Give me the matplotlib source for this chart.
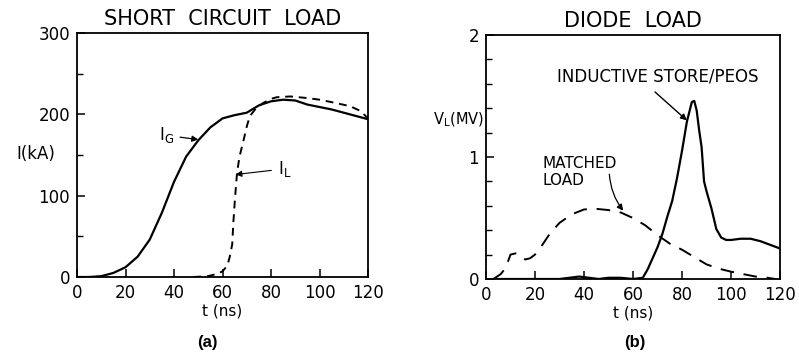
import matplotlib
matplotlib.use("Agg")
import matplotlib.pyplot as plt

# ---- data: (a) short circuit load ----
t_IG = [0, 5, 10, 15, 20, 25, 30, 35, 40, 45, 50, 55, 60, 65, 70, 75, 80, 85, 90, 95, 100, 105, 110, 115, 120]
I_G = [0, 0, 1, 5, 12, 25, 46, 79, 117, 148, 168, 184, 195, 199, 202, 211, 216, 218, 217, 212, 209, 206, 202, 198, 194]

t_IL = [48, 54, 58, 60, 62, 63, 64, 64.5, 65, 65.5, 66, 67, 68.6, 70, 71.3, 74, 76.8, 80, 82.3, 88, 95, 100, 105, 112.6, 117, 120]
I_L = [0, 1, 4, 7, 14, 25, 40, 68, 90, 110, 128, 148, 167, 185, 198, 208, 214, 219, 221, 222, 220, 218, 215, 210, 204, 195]

# ---- data: (b) diode load ----
t_ind = [5, 30, 38, 42, 46, 50, 55, 60, 64, 66, 68, 70, 72, 74, 76, 78, 80, 82, 84, 85, 86, 87, 88, 89, 90, 92, 94, 96, 98, 100, 104, 108, 112, 116, 120]
V_ind = [0, 0, 0.02, 0.01, 0, 0.01, 0.01, 0, 0.01, 0.08, 0.17, 0.26, 0.37, 0.51, 0.64, 0.83, 1.05, 1.29, 1.45, 1.46, 1.38, 1.22, 1.08, 0.80, 0.72, 0.58, 0.41, 0.34, 0.32, 0.32, 0.33, 0.33, 0.31, 0.28, 0.25]

t_match = [3, 6, 8, 10, 12, 14, 16, 18, 20, 23, 26, 30, 35, 40, 45, 50, 55, 60, 65, 70, 75, 80, 85, 90, 95, 100, 105, 110, 115, 118]
V_match = [0, 0.04, 0.09, 0.2, 0.21, 0.2, 0.16, 0.17, 0.2, 0.28, 0.37, 0.46, 0.53, 0.57, 0.575, 0.565, 0.545, 0.50, 0.44, 0.36, 0.29, 0.24, 0.18, 0.12, 0.085, 0.06, 0.04, 0.02, 0.01, 0.0]

x_ticks = [0, 20, 40, 60, 80, 100, 120]

plt.rcParams['font.family'] = ['DejaVu Sans']

fig = plt.figure(figsize=(7.99, 3.6), dpi=100)
axA = fig.add_axes([77/799, 1-277/360, (368-77)/799, (277-33)/360])
axB = fig.add_axes([486/799, 1-279/360, (780-486)/799, (279-35)/360])

for ax in (axA, axB):
    for s in ax.spines.values():
        s.set_linewidth(1.3)
        s.set_color('black')
    ax.set_xlim(0, 120)
    ax.set_xticks(x_ticks)
    ax.tick_params(direction='in', length=6, width=1.1, labelsize=12, pad=5)
    ax.tick_params(which='minor', direction='in', length=4, width=1.0)

# (a)
axA.plot(t_IG, I_G, color='black', lw=1.6)
axA.plot(t_IL, I_L, color='black', lw=1.4, dashes=(4, 3))
axA.set_ylim(0, 300)
axA.set_yticks([0, 100, 200, 300])
axA.set_yticks([50, 150, 250], minor=True)
axA.set_xlabel('t (ns)', fontsize=11, labelpad=1)
axA.set_title('SHORT  CIRCUIT  LOAD', fontsize=15, pad=6)
fig.text(16/799, 1-154/360, 'I(kA)', fontsize=12, va='center', ha='left')
axA.annotate(r'I$_{\rm G}$', xy=(50.0, 169), xytext=(34, 174), fontsize=12, va='center',
             arrowprops=dict(arrowstyle='-|>', color='black', lw=0.9, mutation_scale=9,
                             shrinkA=2, shrinkB=0))
axA.annotate(r'I$_{\rm L}$', xy=(65.4, 126), xytext=(83, 133), fontsize=12, va='center',
             arrowprops=dict(arrowstyle='-|>', color='black', lw=0.8, mutation_scale=9,
                             shrinkA=3, shrinkB=0))
fig.text(207/799, 1-343/360, '(a)', fontsize=12, fontweight='bold',
         family='Liberation Sans', ha='center', va='center')

# (b)
axB.plot(t_ind, V_ind, color='black', lw=1.6)
axB.plot(t_match, V_match, color='black', lw=1.4, dashes=(7, 5))
axB.set_ylim(0, 2)
axB.set_yticks([0, 1, 2])
axB.set_yticks([0.2, 0.4, 0.6, 0.8, 1.2, 1.4, 1.6, 1.8], minor=True)
axB.set_xlabel('t (ns)', fontsize=11, labelpad=1)
axB.set_title('DIODE  LOAD', fontsize=15, pad=6)
fig.text(484/799, 1-120/360, r'V$_{\rm L}$(MV)', fontsize=10.5, va='center', ha='right')
axB.annotate('INDUCTIVE STORE/PEOS', xy=(82, 1.3), xytext=(29, 1.66), fontsize=12,
             va='center', ha='left',
             arrowprops=dict(arrowstyle='-|>', color='black', lw=1.0, mutation_scale=9,
                             shrinkA=4, shrinkB=0, relpos=(0.45, 0)))
axB.text(23, 0.95, 'MATCHED', fontsize=11, va='center', ha='left')
axB.annotate('LOAD', xy=(56, 0.56), xytext=(23, 0.81), fontsize=11, va='center', ha='left',
             arrowprops=dict(arrowstyle='-|>', color='black', lw=0.9, mutation_scale=9,
                             shrinkA=0, shrinkB=0, relpos=(1.6, 0.9),
                             connectionstyle='arc3,rad=0.15'))
fig.text(635/799, 1-343/360, '(b)', fontsize=12, fontweight='bold',
         family='Liberation Sans', ha='center', va='center')

fig.savefig('out.png', dpi=100)
